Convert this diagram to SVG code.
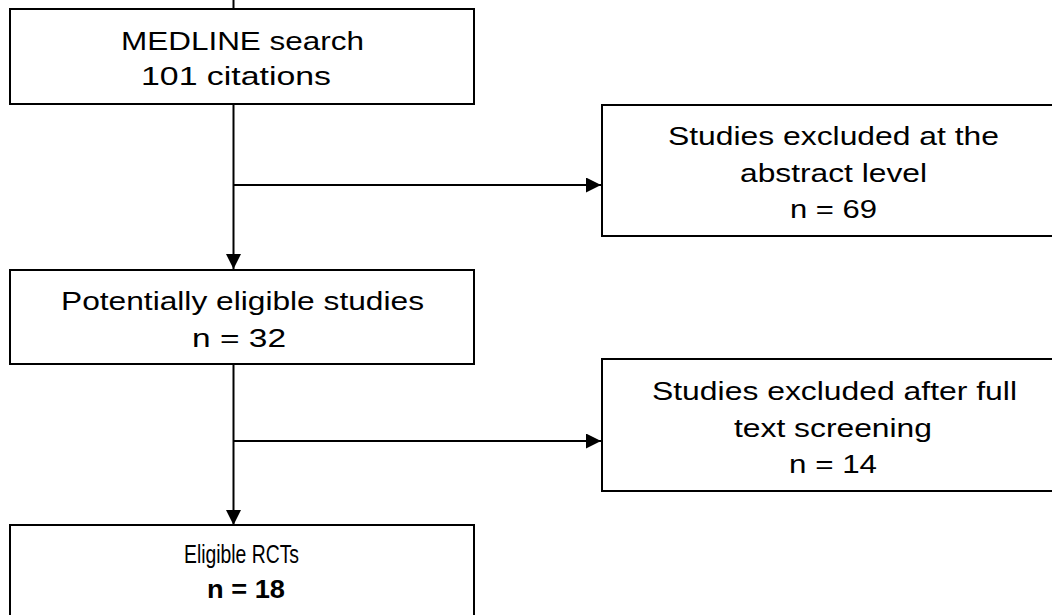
<svg xmlns="http://www.w3.org/2000/svg" width="1052" height="615" viewBox="0 0 1052 615">
<style>
.box{fill:#fff;stroke:#000;stroke-width:2}
.conn{fill:none;stroke:#000;stroke-width:2}
text{font-family:"Liberation Sans",Arial,sans-serif;font-size:26px;fill:#000}
.b{font-weight:bold}
</style>
<defs>
<marker id="arr" markerUnits="userSpaceOnUse" markerWidth="16" markerHeight="16" refX="15" refY="7.5" orient="auto">
<path d="M0,0 L15,7.5 L0,15 Z" fill="#000"/>
</marker>
</defs>
<rect width="1052" height="615" fill="#fff"/>
<g id="connectors">
<path class="conn" d="M233.5 0 V9"/>
<path class="conn" d="M233.5 104 V269" marker-end="url(#arr)"/>
<path class="conn" d="M233.5 185 H601" marker-end="url(#arr)"/>
<path class="conn" d="M233.5 364 V525" marker-end="url(#arr)"/>
<path class="conn" d="M233.5 441 H601" marker-end="url(#arr)"/>
</g>
<g id="medline">
<rect class="box" x="10" y="9" width="464" height="95"/>
<text x="121" y="50" textLength="243" lengthAdjust="spacingAndGlyphs">MEDLINE search</text>
<text x="141" y="85" textLength="190" lengthAdjust="spacingAndGlyphs">101 citations</text>
</g>
<g id="excluded-abstract">
<rect class="box" x="602" y="105" width="463" height="131"/>
<text x="668" y="145" textLength="331" lengthAdjust="spacingAndGlyphs">Studies excluded at the</text>
<text x="740" y="182" textLength="187" lengthAdjust="spacingAndGlyphs">abstract level</text>
<text x="790" y="218" textLength="87" lengthAdjust="spacingAndGlyphs">n = 69</text>
</g>
<g id="potentially-eligible">
<rect class="box" x="10" y="270" width="464" height="94"/>
<text x="61" y="310" textLength="363" lengthAdjust="spacingAndGlyphs">Potentially eligible studies</text>
<text x="192" y="347" textLength="94" lengthAdjust="spacingAndGlyphs">n = 32</text>
</g>
<g id="excluded-fulltext">
<rect class="box" x="602" y="359" width="463" height="132"/>
<text x="652" y="400" textLength="365" lengthAdjust="spacingAndGlyphs">Studies excluded after full</text>
<text x="734" y="437" textLength="198" lengthAdjust="spacingAndGlyphs">text screening</text>
<text x="789" y="473" textLength="88" lengthAdjust="spacingAndGlyphs">n = 14</text>
</g>
<g id="eligible-rcts">
<rect class="box" x="10" y="525" width="464" height="100"/>
<text x="184" y="563" textLength="115" lengthAdjust="spacingAndGlyphs">Eligible RCTs</text>
<text class="b" x="207" y="598" textLength="78" lengthAdjust="spacingAndGlyphs">n = 18</text>
</g>
</svg>
